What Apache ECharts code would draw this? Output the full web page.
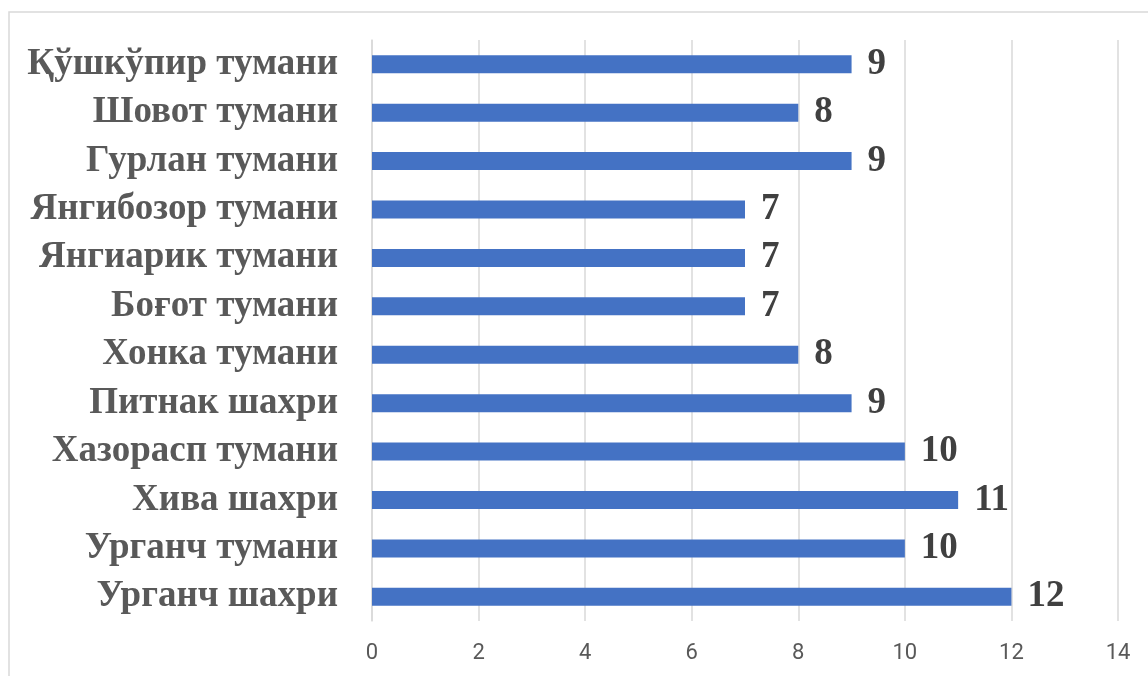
<!DOCTYPE html>
<html>
<head>
<meta charset="utf-8">
<script src="https://cdn.jsdelivr.net/npm/echarts@6/dist/echarts.min.js"></script>
<style>
html,body{margin:0;padding:0;background:#fff;}
#c{width:1148px;height:676px;}
</style>
</head>
<body>
<div id="c"></div>
<script>
const categories = ["Урганч шахри","Урганч тумани","Хива шахри","Хазорасп тумани","Питнак шахри","Хонка тумани","Боғот тумани","Янгиарик тумани","Янгибозор тумани","Гурлан тумани","Шовот тумани","Қўшкўпир тумани"];
const values = [12,10,11,10,9,8,7,7,7,9,8,9];
const xTicks = [0,2,4,6,8,10,12,14];

const chart = echarts.init(document.getElementById('c'));
chart.setOption({
  animation:false,
  backgroundColor:'#fff',
  graphic:[{type:'rect',shape:{x:9,y:12,width:1160,height:700},style:{fill:'none',stroke:'#d9d9d9',lineWidth:1.5},silent:true,z:-1}],
  grid:{left:372,right:30,top:40,bottom:55,containLabel:false},
  xAxis:{type:'value',min:xTicks[0],max:xTicks[xTicks.length-1],interval:2,
    axisLine:{show:false},axisTick:{show:false},
    splitLine:{lineStyle:{color:'#d9d9d9',width:1.5}},
    axisLabel:{color:'#595959',fontSize:22,fontFamily:'Roboto',margin:21}},
  yAxis:{type:'category',data:categories,
    axisLine:{lineStyle:{color:'#d9d9d9',width:1.5}},axisTick:{show:false},
    axisLabel:{color:'#595959',fontSize:37,fontWeight:'bold',fontFamily:'Liberation Serif',margin:34}},
  series:[{type:'bar',data:values,barWidth:18,itemStyle:{color:'#4472C4'},
    label:{show:true,position:'right',distance:16,color:'#404040',fontSize:37,fontWeight:'bold',fontFamily:'Liberation Serif'}}]
});
</script>
</body>
</html>
